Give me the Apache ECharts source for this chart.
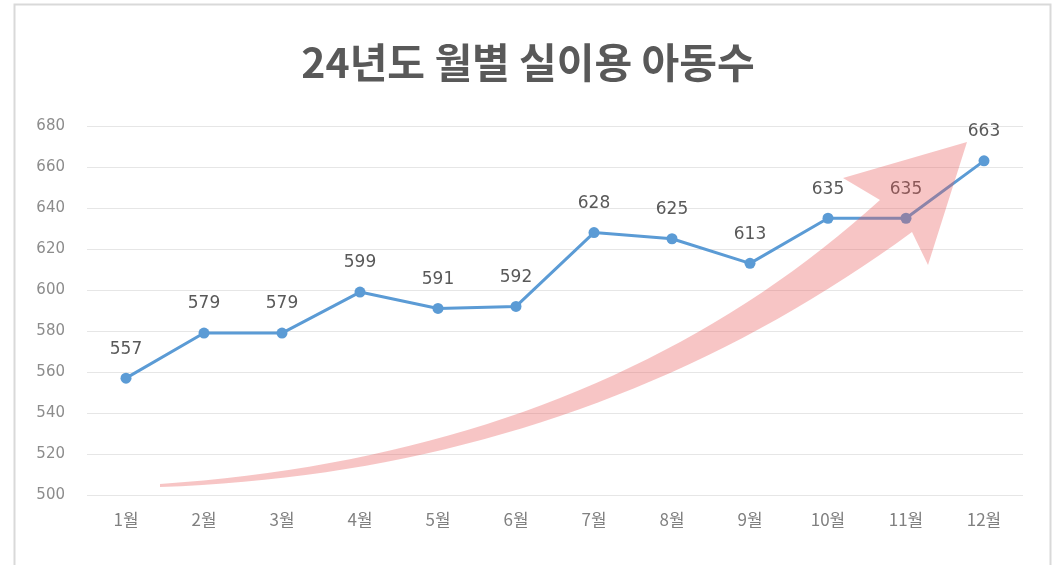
<!DOCTYPE html>
<html>
<head>
<meta charset="utf-8">
<script src="https://cdn.jsdelivr.net/npm/echarts@6/dist/echarts.min.js"></script>
<style>
html,body{margin:0;padding:0;background:#fff;}
#chart{width:1056px;height:565px;}
</style>
</head>
<body>
<div id="chart"></div>
<script>
const titleText = '24년도 월별 실이용 아동수';
const months = ['1월','2월','3월','4월','5월','6월','7월','8월','9월','10월','11월','12월'];
const children = [557, 579, 579, 599, 591, 592, 628, 625, 613, 635, 635, 663];
const yMin = 500, yMax = 680, yStep = 20;

// decorative curved arrow outline (pixel space, not data)
function quad(p0, c, p2, n) {
  const pts = [];
  for (let i = 0; i <= n; i++) {
    const t = i / n, u = 1 - t;
    pts.push([u*u*p0[0] + 2*u*t*c[0] + t*t*p2[0], u*u*p0[1] + 2*u*t*c[1] + t*t*p2[1]]);
  }
  return pts;
}
const upper = quad([160,484], [600,454], [880,200], 40);
const lower = quad([912,232], [584,472.5], [160,487], 40);
const arrowPts = upper.concat([[843,178],[967,142],[928,265]]).concat(lower);

const chart = echarts.init(document.getElementById('chart'), null, {renderer: 'canvas'});
const font = '"Noto Sans CJK KR", "Noto Sans", sans-serif';
const numFont = '"DejaVu Sans", "Noto Sans", sans-serif';
chart.setOption({
  backgroundColor: '#ffffff',
  animation: false,
  title: {
    text: titleText,
    left: 'center',
    top: 37,
    textStyle: {fontFamily: font, fontSize: 41, fontWeight: 'bold', color: '#595959'}
  },
  grid: {left: 87, right: 33, top: 126, bottom: 70},
  xAxis: {
    type: 'category',
    data: months,
    boundaryGap: true,
    axisLine: {show: false},
    axisTick: {show: false},
    axisLabel: {fontFamily: font, fontSize: 17, color: '#808080', margin: 16}
  },
  yAxis: {
    type: 'value',
    min: yMin, max: yMax, interval: yStep,
    axisLine: {show: false},
    axisTick: {show: false},
    axisLabel: {fontFamily: numFont, fontSize: 15, color: '#8c8c8c', margin: 22},
    splitLine: {lineStyle: {color: '#e6e6e6', width: 1}}
  },
  series: [{
    type: 'line',
    data: children,
    symbol: 'circle',
    symbolSize: 11,
    itemStyle: {color: '#5B9BD5'},
    lineStyle: {color: '#5B9BD5', width: 3},
    label: {show: true, position: 'top', distance: 15, fontFamily: numFont, fontSize: 17, color: '#595959'},
    z: 2
  }],
  graphic: [
    {
      type: 'rect', z: -10, silent: true,
      shape: {x: 14.5, y: 4.5, width: 1036, height: 600},
      style: {fill: 'none', stroke: '#d9d9d9', lineWidth: 2}
    },
    {
      type: 'polygon', z: 100, silent: true,
      shape: {points: arrowPts},
      style: {fill: 'rgba(232,90,90,0.35)'}
    }
  ]
});
</script>
</body>
</html>
